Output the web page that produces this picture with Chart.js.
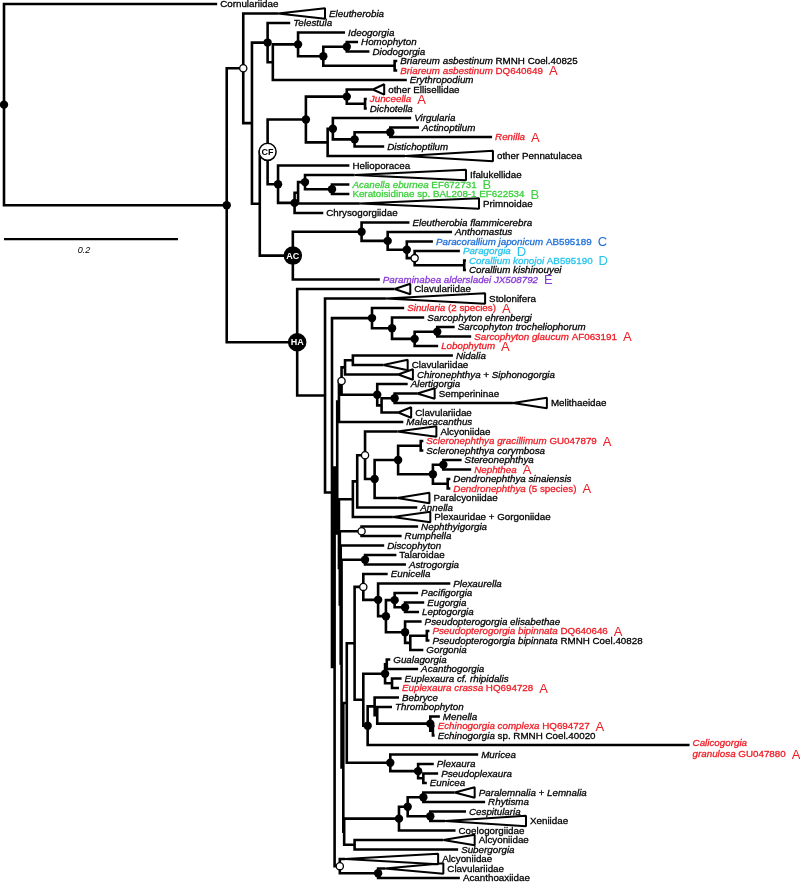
<!DOCTYPE html>
<html><head><meta charset="utf-8">
<script src="https://cdn.jsdelivr.net/npm/chart.js@4.4.0/dist/chart.umd.min.js"></script>
<style>html,body{margin:0;padding:0;background:#fff;}canvas{display:block;}</style>
</head><body>
<canvas id="c" width="800" height="882"></canvas>
<script>
// ---------- internal nodes (depth in substitutions/site from root) ----------
const nodeIds = ["R","N1","O","P","Q","T","U","V","W","Bri","S","CF","X","Y","Jun","Z","Z1","Z2","Z3","Hel","A4","A3","A2","A1","AC","B1","B2","B3","B4","B5","HA","H1","H2","Sin","Sar","Sar2","Sar3","H3","T2","O2b","O2a","Nb","Na","Al1","Al2","Al3","U1","Pg1","An1","Oc","Sc1","Sc2","ScP","Ne1","Ne2","Den","V1","Np","V2","V3","Ta","V4","E2","E1","Eu0","Px1","Px2","Pa1","Pa2","Ps1","Ps2","PsP","GC","G1","G1a","G1b","C1","Bb1","Tr1","M1","Ech","Mu1","Mu2","Mu3","L1","Xe1","Xe2","Xe3","Xe4","Su1","Bo","Ac1"];
const nodeParents = [null,"R","N1","O","P","Q","T","U","V","V","P","S","CF","X","Y","X","Z","Z1","Z2","CF","Hel","A4","A3","A2","S","AC","B1","B2","B3","B4","N1","HA","H1","H2","Sin","Sar","Sar2","H2","H3","T2","O2b","O2a","Nb","O2a","Al1","Al2","T2","U1","Pg1","An1","Oc","Sc1","Sc2","Sc2","Ne1","Ne1","U1","V1","V1","V2","V3","V3","V4","E2","E1","Eu0","Px1","Px2","Pa1","Px2","Ps1","Ps2","E1","GC","G1","G1","GC","C1","Bb1","Tr1","M1","E2","Mu1","Mu2","V4","L1","Xe1","Xe2","Xe2","L1","H3","Bo"];
const nodeDepths = [0,0.256,0.275,0.285,0.303,0.309,0.338,0.367,0.394,0.449,0.294,0.303,0.347,0.394,0.415,0.372,0.378,0.403,0.444,0.315,0.334,0.338,0.346,0.377,0.332,0.411,0.441,0.463,0.472,0.529,0.337,0.369,0.377,0.423,0.446,0.472,0.498,0.380,0.383,0.385,0.388,0.392,0.401,0.429,0.434,0.449,0.385,0.401,0.406,0.415,0.426,0.453,0.479,0.493,0.505,0.510,0.386,0.411,0.387,0.388,0.415,0.390,0.394,0.403,0.413,0.430,0.439,0.449,0.461,0.461,0.467,0.486,0.413,0.438,0.440,0.446,0.418,0.426,0.429,0.490,0.493,0.444,0.476,0.482,0.391,0.454,0.464,0.482,0.490,0.403,0.386,0.430];
const nodeSupport = ["full","full","partial","","full","","full","full","full","","","CF","full","full","","","full","full","full","full","full","","full","full","AC","full","full","full","partial","","HA","","","full","full","full","full","","","","partial","","","full","","full","","","","partial","full","full","","full","full","","","partial","","","full","","","","partial","full","full","full","full","full","","","","full","","","full","","","full","","full","full","","","full","full","full","full","","partial","full"];

// ---------- leaves (one per row, top to bottom) ----------
const leafLabels = ["Cornulariidae","*Eleutherobia*","*Telestula*","*Ideogorgia*","*Homophyton*","*Diodogorgia*","*Briareum asbestinum* RMNH Coel.40825","*Briareum asbestinum* DQ640649","*Erythropodium*","other Ellisellidae","*Junceella*","*Dichotella*","*Virgularia*","*Actinoptilum*","*Renilla*","*Distichoptilum*","other Pennatulacea","Helioporacea","Ifalukellidae","*Acanella eburnea* EF672731","Keratoisidinae sp. BAL208-1 EF622534","Primnoidae","Chrysogorgiidae","*Eleutherobia flammicerebra*","*Anthomastus*","*Paracorallium japonicum* AB595189","*Paragorgia*","*Corallium konojoi* AB595190","*Corallium kishinouyei*","*Paraminabea aldersladei JX508792*","Clavulariidae","Stolonifera","*Sinularia* (2 species)","*Sarcophyton ehrenbergi*","*Sarcophyton trocheliophorum*","*Sarcophyton glaucum* AF063191","*Lobophytum*","*Nidalia*","Clavulariidae","*Chironephthya + Siphonogorgia*","*Alertigorgia*","Semperininae","Melithaeidae","Clavulariidae","*Malacacanthus*","Alcyoniidae","*Scleronephthya gracillimum* GU047879","*Scleronephthya corymbosa*","*Stereonephthya*","*Nephthea*","*Dendronephthya sinaiensis*","*Dendronephthya* (5 species)","Paralcyoniidae","*Annella*","Plexauridae + Gorgoniidae","*Nephthyigorgia*","*Rumphella*","*Discophyton*","Talaroidae","*Astrogorgia*","*Eunicella*","*Plexaurella*","*Pacifigorgia*","*Eugorgia*","*Leptogorgia*","*Pseudopterogorgia elisabethae*","*Pseudopterogorgia bipinnata* DQ640646","*Pseudopterogorgia bipinnata* RMNH Coel.40828","*Gorgonia*","*Gualagorgia*","*Acanthogorgia*","*Euplexaura cf. rhipidalis*","*Euplexaura crassa* HQ694728","*Bebryce*","*Thrombophyton*","*Menella*","*Echinogorgia complexa* HQ694727","*Echinogorgia* sp. RMNH Coel.40020","*Calicogorgia*|*granulosa* GU047880","*Muricea*","*Plexaura*","*Pseudoplexaura*","*Eunicea*","*Paralemnalia + Lemnalia*","*Rhytisma*","*Cespitularia*","Xeniidae","Coelogorgiidae","Alcyoniidae","*Subergorgia*","Alcyoniidae","Clavulariidae","Acanthoaxiidae"];
const leafParents = ["R","O","Q","U","W","W","Bri","Bri","T","Y","Jun","Jun","Z1","Z3","Z3","Z2","Z","Hel","A2","A1","A1","A3","A4","B1","B2","B3","B4","B5","B5","AC","HA","H1","Sin","Sar","Sar3","Sar3","Sar2","Na","Na","Nb","Al1","Al3","Al3","Al2","O2b","Oc","ScP","ScP","Ne2","Ne2","Den","Den","Sc1","An1","Pg1","Np","Np","V2","Ta","Ta","Eu0","Px1","Pa1","Pa2","Pa2","Ps1","PsP","PsP","Ps2","G1a","G1a","G1b","G1b","Bb1","Tr1","M1","Ech","Ech","C1","Mu1","Mu2","Mu3","Mu3","Xe3","Xe3","Xe4","Xe4","Xe1","Su1","Su1","Bo","Ac1","Ac1"];
// tip depth (or far edge of collapsed-clade triangle)
const leafDepths = [0.245,0.369,0.329,0.392,0.407,0.420,0.452,0.452,0.463,0.437,0.417,0.417,0.468,0.477,0.561,0.437,0.562,0.397,0.531,0.397,0.397,0.546,0.367,0.466,0.515,0.493,0.524,0.531,0.531,0.432,0.467,0.553,0.460,0.483,0.518,0.537,0.499,0.516,0.464,0.470,0.464,0.495,0.624,0.468,0.459,0.497,0.482,0.482,0.526,0.537,0.513,0.513,0.489,0.475,0.490,0.476,0.457,0.437,0.451,0.462,0.441,0.513,0.476,0.483,0.477,0.480,0.489,0.489,0.482,0.444,0.476,0.457,0.454,0.454,0.446,0.501,0.495,0.495,0.788,0.545,0.494,0.499,0.486,0.541,0.553,0.531,0.600,0.519,0.541,0.522,0.499,0.505,0.524];
// start of collapsed-clade triangle (null = single terminal)
const leafApex = [null,0.315,null,null,null,null,null,null,null,0.424,null,null,null,null,null,null,0.461,null,0.403,null,null,0.409,null,null,null,null,null,null,null,null,0.449,0.439,null,null,null,null,null,null,0.436,0.453,null,0.475,0.585,0.453,null,0.452,null,null,null,null,null,null,0.452,null,0.447,null,null,null,null,null,null,null,null,null,null,null,null,null,null,null,null,null,null,null,null,null,null,null,null,null,null,null,null,0.518,null,null,0.507,null,0.505,null,0.392,0.438,null];
// mitochondrial gene order
const leafOrder = ["","","","","","","","A","","","A","","","","A","","","","","B","B","","","","","C","D","D","","E","","","A","","","A","A","","","","","","","","","","A","","","A","","A","","","","","","","","","","","","","","","A","","","","","","A","","","","A","","A","","","","","","","","","","","","","",""];
const scaleBarLength = 0.2;

// ---------- derived tree geometry ----------
const nodeIndex = {}; nodeIds.forEach((id,i)=>nodeIndex[id]=i);
const children = nodeIds.map(()=>[]);
nodeParents.forEach((p,i)=>{ if(p) children[nodeIndex[p]].push({kind:'node', i}); });
leafParents.forEach((p,i)=>children[nodeIndex[p]].push({kind:'leaf', i}));
const nodeY = new Array(nodeIds.length);
function nodeRow(i){
  if(nodeY[i]!==undefined) return nodeY[i];
  const ys = children[i].map(c => c.kind==='leaf' ? c.i : nodeRow(c.i));
  nodeY[i] = (Math.min(...ys)+Math.max(...ys))/2;
  return nodeY[i];
}
nodeIds.forEach((_,i)=>nodeRow(i));

const branchPts = [];
function addEdge(pi, x, y){
  const px = nodeDepths[pi], py = nodeY[pi];
  branchPts.push({x:px,y:py},{x:px,y:y},{x:x,y:y},{x:NaN,y:NaN});
}
nodeParents.forEach((p,i)=>{ if(p) addEdge(nodeIndex[p], nodeDepths[i], nodeY[i]); });
leafParents.forEach((p,i)=>addEdge(nodeIndex[p], leafApex[i]!=null ? leafApex[i] : leafDepths[i], i));

const triPts = [];
leafApex.forEach((a,i)=>{
  if(a==null) return;
  const b = leafDepths[i];
  triPts.push({x:a,y:i},{x:b,y:i-0.55},{x:b,y:i+0.55},{x:a,y:i},{x:NaN,y:NaN});
});

const fullPts=[], partialPts=[], cladePts=[];
nodeSupport.forEach((s,i)=>{
  const pt = {x:nodeDepths[i], y:nodeY[i]};
  if(s==='full') fullPts.push(pt);
  else if(s==='partial') partialPts.push(pt);
  else if(s) cladePts.push(Object.assign(pt,{name:s}));
});
const scaleBarRow = 24.75;
const scalePts = [{x:0,y:scaleBarRow},{x:scaleBarLength,y:scaleBarRow}];

const groupColors = {A:'#ee1c25', B:'#3cd03c', C:'#1e6fd8', D:'#26c4ee', E:'#8a38d8'};
const FONT = '"Liberation Sans", Arial, sans-serif';

const labelPlugin = {
  id:'treeLabels',
  afterDatasetsDraw(chart){
    const ctx = chart.ctx, xs = chart.scales.x, ys = chart.scales.y;
    ctx.save();
    ctx.textBaseline = 'middle';
    ctx.lineWidth = 0.3;
    leafLabels.forEach((lab,i)=>{
      const color = leafOrder[i] ? groupColors[leafOrder[i]] : '#000';
      ctx.fillStyle = color;
      ctx.strokeStyle = color;
      const x0 = xs.getPixelForValue(leafDepths[i]) + (leafApex[i]!=null ? 4 : 3);
      const lines = lab.split('|');
      let py = ys.getPixelForValue(i) + 0.5 - (lines.length>1 ? 2 : 0);
      let px = x0;
      lines.forEach((line,li)=>{
        px = x0;
        const parts = line.split('*');
        parts.forEach((seg,k)=>{
          if(!seg) return;
          ctx.font = (k%2===1 ? 'italic ' : '') + '9.8px ' + FONT;
          ctx.fillText(seg, px, py);
          ctx.strokeText(seg, px, py);
          px += ctx.measureText(seg).width;
        });
        if(li < lines.length-1) py += 11;
      });
      if(leafOrder[i]){
        ctx.font = '13px ' + FONT;
        ctx.fillText(leafOrder[i], px + 6, py + 0.5);
      }
    });
    // clade circles text
    ctx.textAlign = 'center';
    ctx.font = 'bold 9px ' + FONT;
    cladePts.forEach(p=>{
      ctx.fillStyle = p.name==='CF' ? '#000' : '#fff';
      ctx.fillText(p.name, xs.getPixelForValue(p.x), ys.getPixelForValue(p.y)+0.5);
    });
    // scale bar label
    ctx.fillStyle = '#000';
    ctx.font = 'italic 9px ' + FONT;
    ctx.fillText(String(scaleBarLength), xs.getPixelForValue(scaleBarLength*0.46), ys.getPixelForValue(scaleBarRow+1.15));
    ctx.restore();
  }
};

new Chart(document.getElementById('c'), {
  type:'scatter',
  data:{ datasets:[
    {label:'clades', data:cladePts, pointRadius:8.5, pointBorderWidth:1.5, pointBorderColor:'#000',
     pointBackgroundColor:(c)=> (cladePts[c.dataIndex] && cladePts[c.dataIndex].name==='CF') ? '#fff' : '#000', order:0, clip:false},
    {label:'full support', data:fullPts, pointRadius:4.2, pointBorderWidth:0, pointBackgroundColor:'#000', order:1, clip:false},
    {label:'partial support', data:partialPts, pointRadius:3.6, pointBorderWidth:1.3, pointBorderColor:'#000', pointBackgroundColor:'#fff', order:1, clip:false},
    {type:'line', label:'branches', data:branchPts, borderColor:'#000', borderWidth:2.6, pointRadius:0, fill:false, spanGaps:false, tension:0, borderJoinStyle:'miter', borderCapStyle:'butt', order:3, clip:false},
    {type:'line', label:'collapsed', data:triPts, borderColor:'#000', borderWidth:2, pointRadius:0, fill:false, spanGaps:false, tension:0, borderJoinStyle:'bevel', order:3, clip:false},
    {type:'line', label:'scale', data:scalePts, borderColor:'#000', borderWidth:2.4, pointRadius:0, fill:false, order:3, clip:false}
  ]},
  options:{
    responsive:false, devicePixelRatio:1, animation:false, events:[],
    layout:{padding:0, autoPadding:false},
    plugins:{legend:{display:false}, tooltip:{enabled:false}},
    scales:{
      x:{type:'linear', min:-4/870, max:-4/870+800/870, display:false},
      y:{type:'linear', min:-0.42, max:92.42, reverse:true, display:false}
    }
  },
  plugins:[labelPlugin]
});
</script>
</body></html>
